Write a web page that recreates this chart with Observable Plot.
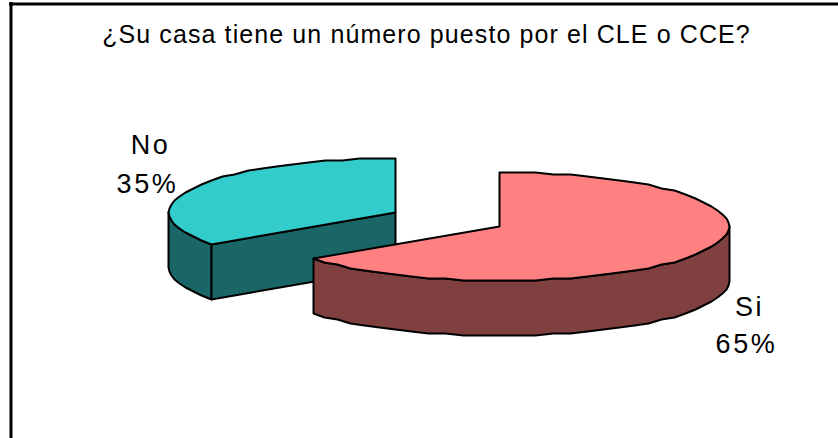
<!DOCTYPE html>
<html><head><meta charset="utf-8">
<script src="https://cdn.jsdelivr.net/npm/d3@7"></script>
<script src="https://cdn.jsdelivr.net/npm/@observablehq/plot@0.6"></script>
<style>html,body{margin:0;padding:0;background:#fff}svg{display:block}
.ttl text{letter-spacing:1.1px}.lab text{letter-spacing:2.6px}</style>
</head><body><script>
const title = "¿Su casa tiene un número puesto por el CLE o CCE?";
const categories = ["Si", "No"];
const shares = [65, 35];
const percentLabels = ["65%", "35%"];
const topColors = ["#FF8080", "#33CCCC"];
const sideColors = ["#804040", "#1A6666"];

const W = 838, H = 438;
const ry = 54, depth = 55, strokeW = 2;
const radiiX = [229.5, 227];
const centers = [[499, 226], [395, 212]];

const arcs = d3.pie().sort(null)(shares);
const snap = v => Math.round(v / 2) * 2;
const pt = (i, a, dz = 0) => ({x: Math.round(centers[i][0] + radiiX[i] * Math.sin(a)), y: snap(centers[i][1] - ry * Math.cos(a)) + dz});
const arcPts = (i, a0, a1, dz = 0) => {
  const n = Math.max(2, Math.ceil(Math.abs(a1 - a0) / 0.08));
  return d3.range(n + 1).map(k => pt(i, a0 + (a1 - a0) * k / n, dz));
};
const apex = (i, dz = 0) => ({x: centers[i][0], y: centers[i][1] + dz});

const marks = [];
const face = (pts, fill) => marks.push(Plot.line([...pts, pts[0]], {x: "x", y: "y", fill, stroke: "#000", strokeWidth: strokeW, curve: "linear", strokeLinejoin: "round"}));

// No slice (drawn first, it sits behind)
{
  const i = 1, a = arcs[i];
  const rimStart = a.startAngle, rimEnd = 1.5 * Math.PI;
  face([...arcPts(i, rimStart, rimEnd), ...arcPts(i, rimEnd, rimStart, depth)], sideColors[i]);
  face([apex(i), pt(i, a.startAngle), pt(i, a.startAngle, depth), apex(i, depth)], sideColors[i]);
  face([apex(i), ...arcPts(i, a.startAngle, a.endAngle)], topColors[i]);
}
// Si slice
{
  const i = 0, a = arcs[i];
  const rimStart = 0.5 * Math.PI, rimEnd = a.endAngle;
  face([...arcPts(i, rimStart, rimEnd), ...arcPts(i, rimEnd, rimStart, depth)], sideColors[i]);
  face([apex(i), ...arcPts(i, a.startAngle, a.endAngle)], topColors[i]);
}

const font = {fontFamily: "'Liberation Sans', Arial, sans-serif", fill: "#000"};
const labelPos = [{x0: 749, x1: 746, y0: 307, y1: 344}, {x0: 150, x1: 147, y0: 145, y1: 184}];
const labels = categories.flatMap((cat, i) => [
  {text: cat, x: labelPos[i].x0, y: labelPos[i].y0},
  {text: percentLabels[i], x: labelPos[i].x1, y: labelPos[i].y1}
]);

const chart = Plot.plot({
  width: W, height: H, margin: 0,
  x: {domain: [0, W], range: [0, W], axis: null},
  y: {domain: [0, H], range: [0, H], axis: null},
  style: {background: "#fff"},
  marks: [
    Plot.ruleY([3.5], {x1: 9, x2: W, stroke: "#000", strokeWidth: 3}),
    Plot.ruleX([10.5], {y1: 2, y2: H, stroke: "#000", strokeWidth: 3}),
    ...marks,
    Plot.text([title], {x: () => 426, y: () => 34, text: d => d, fontSize: 25, className: "ttl", ...font}),
    Plot.text(labels, {x: "x", y: "y", text: "text", fontSize: 27, className: "lab", ...font})
  ]
});
document.body.appendChild(chart);
</script></body></html>
